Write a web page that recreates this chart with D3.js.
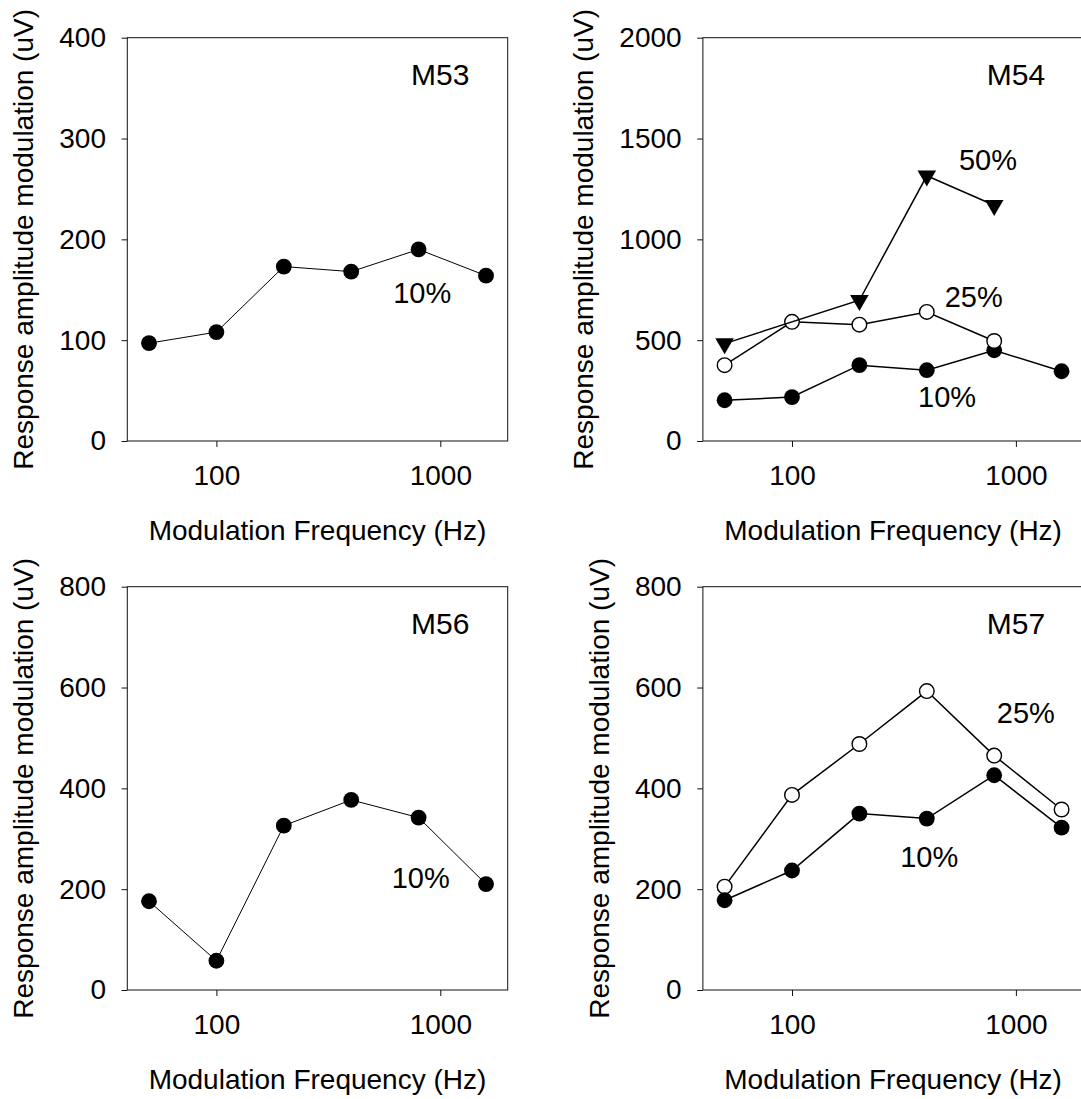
<!DOCTYPE html>
<html lang="en">
<head>
<meta charset="UTF-8">
<title>Response amplitude modulation vs modulation frequency</title>
<script src="https://cdnjs.cloudflare.com/ajax/libs/d3/7.8.5/d3.min.js"></script>
<style>
  body { margin: 0; background: #fff; }
  svg { display: block; font-family: "Liberation Sans", Arial, sans-serif; }
  .axis text { font-size: 28px; fill: #000; }
  .axis line { stroke: #111; stroke-width: 1; }
  .frame { fill: none; stroke: #111; stroke-width: 1; }
  .title { font-size: 28px; fill: #000; }
  .name { font-size: 30px; fill: #000; }
  .pct { font-size: 29px; fill: #000; }
</style>
</head>
<body>
<div id="chart"></div>
<script>
// modulation frequencies (Hz)
const freqs = [50, 100, 200, 400, 800, 1600];

// response amplitude modulation (uV), null = not measured
const m53_10 = [97, 108, 173, 168, 190, 164];
const m54_10 = [202, 218, 376, 351, 450, 346];
const m54_25 = [376, 591, 577, 640, 496, null];
const m54_50 = [483, null, 698, 1315, 1169, null];
const m56_10 = [176, 58, 326, 377, 342, 210];
const m57_25 = [205, 387, 488, 593, 465, 358];
const m57_10 = [178, 237, 350, 340, 426, 322];

const xTicks = [100, 1000];
const yTicks53 = [0, 100, 200, 300, 400];
const yTicks54 = [0, 500, 1000, 1500, 2000];
const yTicks800 = [0, 200, 400, 600, 800];

// text anchors for the depth labels, in data units (freq, uV)
const panels = [
  { name: "M53", col: 0, row: 0, yMax: 400, yTicks: yTicks53,
    series: [{ vals: m53_10, sym: "filled", lw: 1 }],
    labels: [{ t: "10%", f: 830, v: 137 }] },
  { name: "M54", col: 1, row: 0, yMax: 2000, yTicks: yTicks54,
    series: [{ vals: m54_10, sym: "filled", lw: 1.5 },
             { vals: m54_25, sym: "open", lw: 1.5 },
             { vals: m54_50, sym: "tri", lw: 1.5 }],
    labels: [{ t: "50%", f: 750, v: 1344 }, { t: "25%", f: 648, v: 665 }, { t: "10%", f: 493, v: 169 }] },
  { name: "M56", col: 0, row: 1, yMax: 800, yTicks: yTicks800,
    series: [{ vals: m56_10, sym: "filled", lw: 1 }],
    labels: [{ t: "10%", f: 818, v: 202 }] },
  { name: "M57", col: 1, row: 1, yMax: 800, yTicks: yTicks800,
    series: [{ vals: m57_25, sym: "open", lw: 1.5 },
             { vals: m57_10, sym: "filled", lw: 1.5 }],
    labels: [{ t: "25%", f: 1108, v: 530 }, { t: "10%", f: 410, v: 244 }] }
];

const W = 1081, H = 1099;
const left0 = 127.3, top0 = 37.7, dx = 575.6, dy = 549;
const pw = 380.4, ph = 403.3;

const svg = d3.select("#chart").append("svg")
  .attr("width", W).attr("height", H);

const x = d3.scaleLog().domain([40, 2000]).range([0, pw]);

panels.forEach(p => {
  const g = svg.append("g")
    .attr("transform", `translate(${left0 + p.col * dx},${top0 + p.row * dy})`);
  const y = d3.scaleLinear().domain([0, p.yMax]).range([ph, 0]);

  const yAxis = g.append("g").attr("class", "axis")
    .call(d3.axisLeft(y).tickValues(p.yTicks).tickFormat(d3.format("d"))
      .tickSize(5.7).tickPadding(15.6));
  yAxis.select(".domain").remove();

  const xAxis = g.append("g").attr("class", "axis")
    .attr("transform", `translate(0,${ph})`)
    .call(d3.axisBottom(x).tickValues(xTicks).tickFormat(d3.format("d"))
      .tickSize(6).tickPadding(18));
  xAxis.select(".domain").remove();

  g.append("rect").attr("class", "frame")
    .attr("width", pw).attr("height", ph);

  // axis titles
  const bb = yAxis.node().getBBox();
  g.append("text").attr("class", "title")
    .attr("transform", `translate(${bb.x - 26},${ph / 2}) rotate(-90)`)
    .attr("text-anchor", "middle")
    .text("Response amplitude modulation (uV)");
  g.append("text").attr("class", "title")
    .attr("x", pw / 2).attr("y", 502.3)
    .attr("text-anchor", "middle")
    .text("Modulation Frequency (Hz)");

  const line = d3.line().x(d => x(d.f)).y(d => y(d.v));

  p.series.forEach(s => {
    const pts = freqs.map((f, i) => ({ f: f, v: s.vals[i] })).filter(d => d.v != null);
    g.append("path").datum(pts)
      .attr("d", line)
      .attr("fill", "none").attr("stroke", "#000").attr("stroke-width", s.lw);

    if (s.sym === "tri") {
      g.selectAll(null).data(pts).join("path")
        .attr("d", d3.symbol(d3.symbolTriangle, 150))
        .attr("transform", d => `translate(${x(d.f)},${y(d.v)}) rotate(180)`)
        .attr("fill", "#000");
    } else {
      g.selectAll(null).data(pts).join("circle")
        .attr("cx", d => x(d.f)).attr("cy", d => y(d.v))
        .attr("r", s.sym === "open" ? 7.3 : 7.9)
        .attr("fill", s.sym === "open" ? "#fff" : "#000")
        .attr("stroke", "#000").attr("stroke-width", s.sym === "open" ? 1.4 : 0);
    }
  });

  g.append("text").attr("class", "name")
    .attr("x", 313).attr("y", 47.3)
    .attr("text-anchor", "middle").text(p.name);

  g.selectAll(null).data(p.labels).join("text")
    .attr("class", "pct")
    .attr("x", d => x(d.f)).attr("y", d => y(d.v))
    .attr("text-anchor", "middle").text(d => d.t);
});
</script>
</body>
</html>
